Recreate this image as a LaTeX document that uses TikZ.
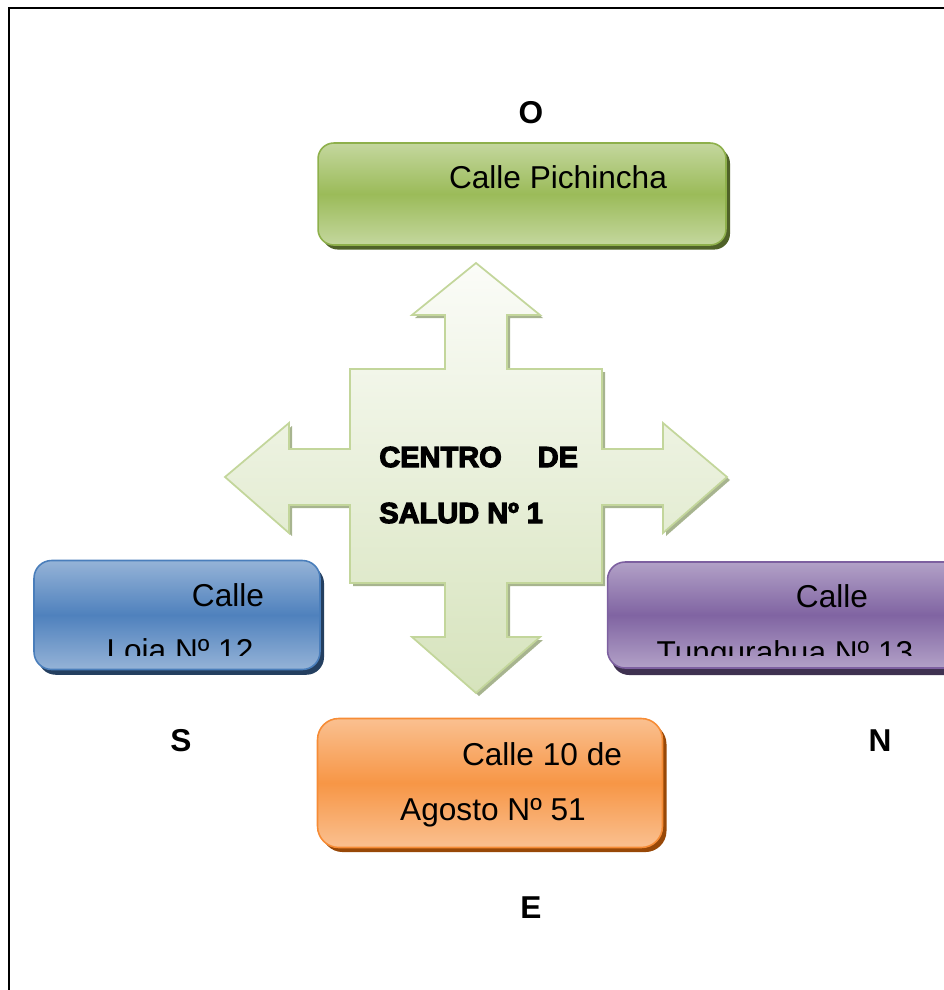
\documentclass[tikz,border=0pt]{standalone}
\usepackage{fontspec}
\setmainfont{Liberation Sans}
\newfontfamily\heavyfont[FakeBold=4]{Liberation Sans Bold}
\usetikzlibrary{shadows}

\definecolor{pichEdge}{HTML}{C4D79E}
\definecolor{pichMid}{HTML}{9BBB59}
\definecolor{pichLine}{HTML}{8EB04B}
\definecolor{pichShadow}{HTML}{4F6228}
\definecolor{lojaEdge}{HTML}{95B3D7}
\definecolor{lojaMid}{HTML}{4F81BD}
\definecolor{lojaLine}{HTML}{4A7EBB}
\definecolor{lojaShadow}{HTML}{243F60}
\definecolor{tungEdge}{HTML}{B2A1C7}
\definecolor{tungMid}{HTML}{8064A2}
\definecolor{tungLine}{HTML}{7D60A0}
\definecolor{tungShadow}{HTML}{3F3151}
\definecolor{agoEdge}{HTML}{FAC090}
\definecolor{agoMid}{HTML}{F79646}
\definecolor{agoLine}{HTML}{F68C36}
\definecolor{agoShadow}{HTML}{984807}
\definecolor{crossTop}{HTML}{FBFCF8}
\definecolor{crossBottom}{HTML}{D6E3BC}
\definecolor{crossLine}{HTML}{C3D69B}
\definecolor{crossShadow}{HTML}{A7B48F}

\begin{document}
\begin{tikzpicture}[x=0.02cm,y=-0.02cm,
    calle/.style={rectangle,inner sep=0pt,line width=0.9pt},
    txt/.style={anchor=base,inner sep=0pt,font=\fontsize{18}{22}\selectfont},
    punto/.style={inner sep=0pt,font=\bfseries\fontsize{18}{22}\selectfont}]
    \useasboundingbox (0,0) rectangle (943,990);
    \draw [line width=1.2pt] (9,1000) -- (9,8) -- (960,8);

    \shade [top color=crossTop,bottom color=crossBottom,draw=crossLine,line width=1pt,
        preaction={fill=crossShadow,transform canvas={shift={(3,3)}}}]
        (476,263) -- (540,315) -- (507,315) -- (507,369) -- (602,369) -- (602,449)
        -- (663,449) -- (663,423) -- (727,477) -- (663,533) -- (663,505) -- (602,505)
        -- (602,583) -- (507,583) -- (507,637) -- (540,637) -- (476,693) -- (412,637)
        -- (445,637) -- (445,583) -- (350,583) -- (350,505) -- (289,505) -- (289,533)
        -- (225,477) -- (289,423) -- (289,449) -- (350,449) -- (350,369) -- (445,369)
        -- (445,315) -- (412,315) -- cycle;
    \node [anchor=base west,inner sep=0pt,font=\heavyfont\fontsize{16.5}{20}\selectfont] (centro) at (379,467) {CENTRO\hspace{0.72cm}DE};
    \node [anchor=base west,inner sep=0pt,font=\heavyfont\fontsize{16.5}{20}\selectfont] (salud) at (379,523) {SALUD Nº 1};

    \node [calle,rounded corners=9pt,minimum width=8.16cm,minimum height=2.04cm,draw=pichLine,
        top color=pichEdge,bottom color=pichEdge,middle color=pichMid,
        drop shadow={fill=pichShadow,opacity=1,shadow xshift=2.3pt,shadow yshift=-2.6pt}] (pichincha) at (522,194) {};
    \node [calle,rounded corners=10pt,minimum width=5.72cm,minimum height=2.18cm,draw=lojaLine,
        top color=lojaEdge,bottom color=lojaEdge,middle color=lojaMid,
        drop shadow={fill=lojaShadow,opacity=1,shadow xshift=2.3pt,shadow yshift=-3pt}] (loja) at (177,615) {};
    \node [calle,rounded corners=10pt,minimum width=7.1cm,minimum height=2.12cm,draw=tungLine,
        top color=tungEdge,bottom color=tungEdge,middle color=tungMid,
        drop shadow={fill=tungShadow,opacity=1,shadow xshift=2.3pt,shadow yshift=-4pt}] (tungurahua) at (785,615) {};
    \node [calle,rounded corners=12pt,minimum width=6.9cm,minimum height=2.58cm,draw=agoLine,
        top color=agoEdge,bottom color=agoEdge,middle color=agoMid,
        drop shadow={fill=agoShadow,opacity=1,shadow xshift=2.3pt,shadow yshift=-2.6pt}] (agosto) at (490,783) {};

    \node [txt] (pichinchaA) at (558,188) {Calle Pichincha};
    \node [txt] (lojaA) at (228,606) {Calle};
    \node [txt] (tungurahuaA) at (832,607) {Calle};
    \begin{scope}
        \clip (0,0) rectangle (943,655);
        \node [txt] (lojaB) at (180,661) {Loja Nº 12};
        \node [txt] (tungurahuaB) at (785,663) {Tungurahua Nº 13};
    \end{scope}
    \node [txt] (agostoA) at (542,765) {Calle 10 de};
    \node [txt] (agostoB) at (493,820) {Agosto Nº 51};

    \node [punto] (oeste) at (531,113) {O};
    \node [punto] (sur) at (181,741) {S};
    \node [punto] (norte) at (880,741) {N};
    \node [punto] (este) at (531,908) {E};
\end{tikzpicture}
\end{document}
